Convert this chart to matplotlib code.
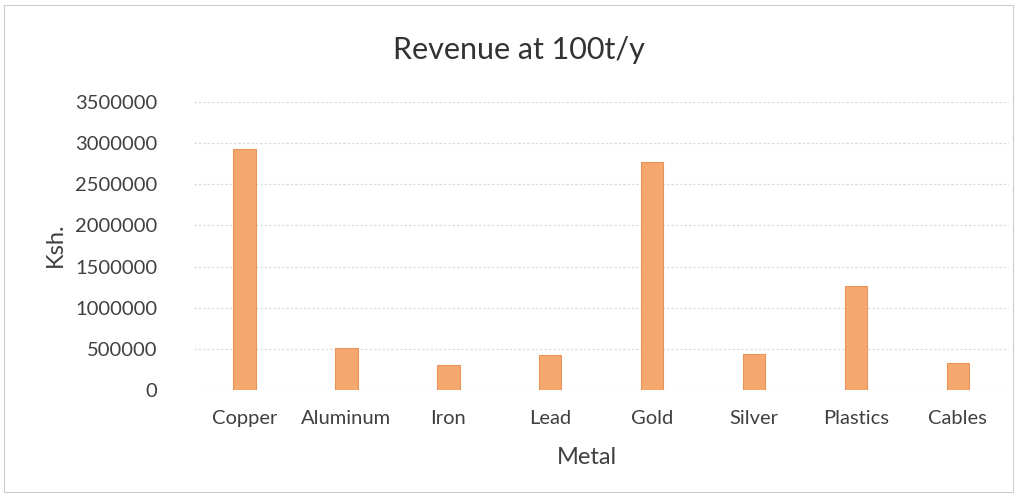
import matplotlib.pyplot as plt
import matplotlib.patches as mpatches
from matplotlib.ticker import FuncFormatter

# Revenue per metal (Ksh.)
metals = ['Copper', 'Aluminum', 'Iron', 'Lead', 'Gold', 'Silver', 'Plastics', 'Cables']
revenue = [2930000, 510000, 305000, 425000, 2770000, 437000, 1265000, 330000]

plt.rcParams['font.family'] = ['Lato', 'DejaVu Sans']

fig = plt.figure(figsize=(10.19, 4.97), dpi=100)
ax = fig.add_axes([0.19, 0.215, 0.80, 0.58])

ax.bar(metals, revenue, width=0.22, color='#F5A86E', edgecolor='#E8935A', linewidth=0.8, zorder=3)

ax.set_ylim(0, 3500000)
ax.set_yticks(range(0, 3500001, 500000))
ax.yaxis.set_major_formatter(FuncFormatter(lambda v, p: f'{int(v)}'))
ax.set_xlim(-0.5, len(metals) - 0.5)
ax.grid(axis='y', color='#dddddd', linewidth=0.9, linestyle=(0, (2, 1.5)), zorder=0)

for s in ax.spines.values():
    s.set_visible(False)
ax.tick_params(length=0, labelsize=14.5, colors='#404040')
ax.tick_params(axis='y', pad=26)
ax.tick_params(axis='x', pad=14)

fig.text(0.509, 1 - 50 / 497, 'Revenue at 100t/y', fontsize=22, color='#333333',
         ha='center', va='center')
fig.text(587 / 1019, 1 - 458 / 497, 'Metal', fontsize=17, color='#404040',
         ha='center', va='center')
fig.text(55 / 1019, 1 - 245 / 497, 'Ksh.', fontsize=17, color='#404040',
         ha='center', va='center', rotation=90)

# faint outer border
fig.patches.append(mpatches.Rectangle((0.004, 0.01), 0.99, 0.98, transform=fig.transFigure,
                                      fill=False, edgecolor='#cccccc', linewidth=0.8))

fig.savefig('out.png', dpi=100)
